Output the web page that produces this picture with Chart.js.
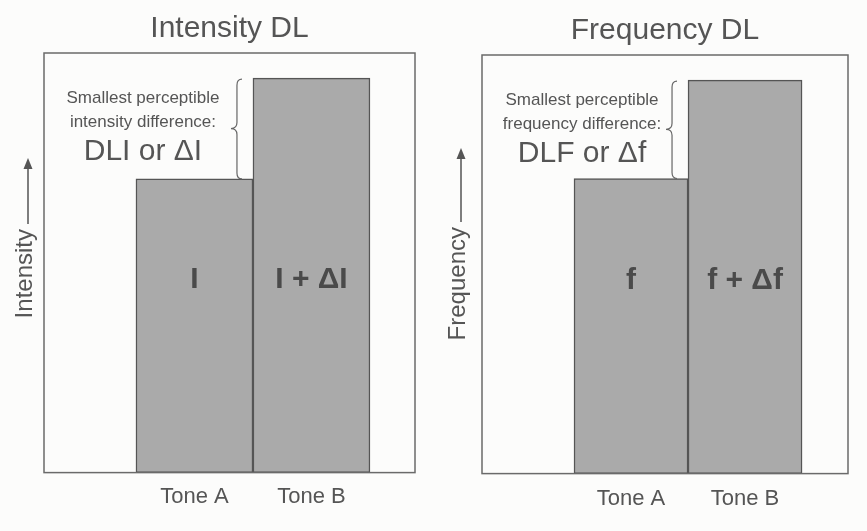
<!DOCTYPE html>
<html>
<head>
<meta charset="utf-8">
<script src="https://cdn.jsdelivr.net/npm/chart.js@4.4.1/dist/chart.umd.min.js"></script>
<style>
  body { margin: 0; background: #fcfcfb; width: 867px; height: 531px; overflow: hidden; position: relative; }
  .panel { position: absolute; top: 0; height: 531px; }
  #left { left: 0; width: 433px; }
  #right { left: 433px; width: 434px; }
</style>
</head>
<body>
<div class="panel" id="left"><canvas id="intensityChart" width="433" height="531"></canvas></div>
<div class="panel" id="right"><canvas id="frequencyChart" width="434" height="531"></canvas></div>
<script>
// ---- data ----
const tones = ['Tone A', 'Tone B'];
const tonePositions = [1, 2];
const intensityValues = [0.70, 0.94];
const frequencyValues = [0.705, 0.94];
const intensityBarText = ['I', 'I + ΔI'];
const frequencyBarText = ['f', 'f + Δf'];
const intensityNote = ['Smallest perceptible', 'intensity difference:', 'DLI or ΔI'];
const frequencyNote = ['Smallest perceptible', 'frequency difference:', 'DLF or Δf'];

const FONT = '"Liberation Sans", Arial, sans-serif';
const INK = '#555';

// frame, y label with arrow, bar labels, brace + note
const decor = {
  id: 'decor',
  afterDatasetsDraw(chart, args, opts) {
    const ctx = chart.ctx;
    const a = chart.chartArea;
    const bars = chart.getDatasetMeta(0).data;
    ctx.save();

    // frame
    ctx.strokeStyle = '#6a6a6a';
    ctx.lineWidth = 1.5;
    ctx.strokeRect(a.left, a.top, a.right - a.left, a.bottom - a.top);

    // y label + arrow
    ctx.fillStyle = INK;
    ctx.strokeStyle = INK;
    ctx.font = '24px ' + FONT;
    const w = ctx.measureText(opts.yLabel).width;
    const lx = a.left - opts.labelOffset;
    const textTop = a.top + opts.labelTop;
    ctx.save();
    ctx.translate(lx, textTop + w / 2);
    ctx.rotate(-Math.PI / 2);
    ctx.textAlign = 'center';
    ctx.textBaseline = 'middle';
    ctx.fillText(opts.yLabel, 0, 0);
    ctx.restore();
    const ax = lx + 3;
    const tip = textTop - opts.arrowLen;
    ctx.lineWidth = 1.5;
    ctx.beginPath();
    ctx.moveTo(ax, textTop - 5);
    ctx.lineTo(ax, tip + 8);
    ctx.stroke();
    ctx.beginPath();
    ctx.moveTo(ax, tip);
    ctx.lineTo(ax - 4.5, tip + 11);
    ctx.lineTo(ax + 4.5, tip + 11);
    ctx.closePath();
    ctx.fill();

    // labels inside bars
    const yScale = chart.scales.y;
    ctx.font = 'bold 30px ' + FONT;
    ctx.fillStyle = '#4a4a4a';
    ctx.textAlign = 'center';
    ctx.textBaseline = 'middle';
    bars.forEach((b, i) => {
      ctx.fillText(opts.barText[i], b.x, yScale.getPixelForValue(0.46));
    });

    // brace between the two bar tops
    const barA = bars[0], barB = bars[1];
    const bx = barA.x + barA.width / 2 - 16;
    const yTop = barB.y, yBot = barA.y;
    const yMid = (yTop + yBot) / 2;
    ctx.strokeStyle = '#666';
    ctx.lineWidth = 1.2;
    ctx.beginPath();
    ctx.moveTo(bx + 5, yTop + 1);
    ctx.quadraticCurveTo(bx, yTop + 1, bx, yTop + 7);
    ctx.lineTo(bx, yMid - 6);
    ctx.quadraticCurveTo(bx, yMid, bx - 6, yMid);
    ctx.quadraticCurveTo(bx, yMid, bx, yMid + 6);
    ctx.lineTo(bx, yBot - 6);
    ctx.quadraticCurveTo(bx, yBot, bx + 5, yBot);
    ctx.stroke();

    // note text
    const nx = bx - opts.noteShift;
    ctx.fillStyle = INK;
    ctx.font = '17px ' + FONT;
    ctx.fillText(opts.note[0], nx, yTop + 20);
    ctx.fillText(opts.note[1], nx, yTop + 44);
    ctx.font = '30px ' + FONT;
    ctx.fillText(opts.note[2], nx, yTop + 74);

    ctx.restore();
  }
};

function makeChart(id, cfg) {
  return new Chart(document.getElementById(id), {
    type: 'bar',
    data: {
      datasets: [{
        data: tonePositions.map((x, i) => ({ x: x, y: cfg.values[i] })),
        backgroundColor: '#aaaaaa',
        borderColor: '#555',
        borderWidth: 1.5,
        borderSkipped: false,
        // one full tone step wide, so the two bars touch
        barThickness: (c) => {
          const s = c.chart.scales.x;
          return s.getPixelForValue(tonePositions[1]) - s.getPixelForValue(tonePositions[0]);
        }
      }]
    },
    options: {
      responsive: false,
      animation: false,
      layout: { padding: cfg.padding },
      plugins: {
        legend: { display: false },
        tooltip: { enabled: false },
        title: {
          display: true,
          text: cfg.title,
          color: INK,
          font: { family: FONT, size: 30, weight: 'normal' },
          padding: cfg.titlePadding
        },
        decor: cfg.decor
      },
      scales: {
        x: {
          type: 'linear',
          offset: false,
          min: cfg.xMin,
          max: cfg.xMax,
          afterBuildTicks: (scale) => {
            scale.ticks = tonePositions.map(v => ({ value: v }));
          },
          ticks: {
            color: INK,
            padding: cfg.tickPad,
            font: { family: FONT, size: 22 },
            callback: (v) => tones[tonePositions.indexOf(v)] || ''
          },
          grid: { display: false, drawTicks: false },
          border: { display: false }
        },
        y: { min: 0, max: 1, display: false }
      }
    },
    plugins: [decor]
  });
}

makeChart('intensityChart', {
  title: 'Intensity DL',
  values: intensityValues,
  xMin: -0.286, xMax: 2.885,
  padding: { left: 44, right: 18, top: 0, bottom: 10 },
  titlePadding: { top: 11, bottom: 6 },
  tickPad: 11,
  decor: { yLabel: 'Intensity', labelOffset: 19, labelTop: 176, arrowLen: 71,
           barText: intensityBarText, note: intensityNote, noteShift: 94 }
});

makeChart('frequencyChart', {
  title: 'Frequency DL',
  values: frequencyValues,
  xMin: -0.307, xMax: 2.903,
  padding: { left: 49, right: 19, top: 0, bottom: 7 },
  titlePadding: { top: 13, bottom: 6 },
  tickPad: 12,
  decor: { yLabel: 'Frequency', labelOffset: 24, labelTop: 172, arrowLen: 79,
           barText: frequencyBarText, note: frequencyNote, noteShift: 90 }
});
</script>
</body>
</html>
